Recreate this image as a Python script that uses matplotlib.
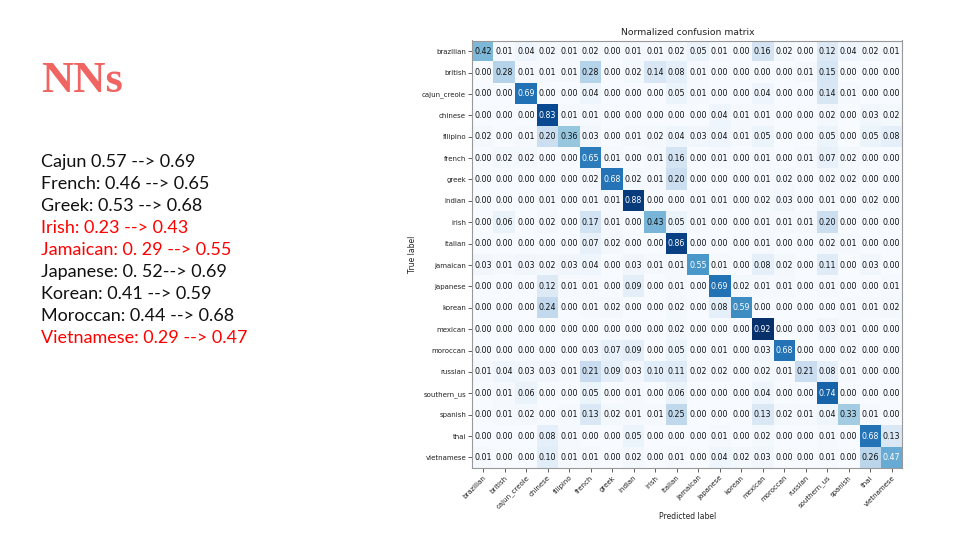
import numpy as np
import matplotlib
matplotlib.use("Agg")
import matplotlib.pyplot as plt

classes = ["brazilian", "british", "cajun_creole", "chinese", "filipino", "french",
           "greek", "indian", "irish", "italian", "jamaican", "japanese", "korean",
           "mexican", "moroccan", "russian", "southern_us", "spanish", "thai", "vietnamese"]

cm = np.array([
    [0.42, 0.01, 0.04, 0.02, 0.01, 0.02, 0.00, 0.01, 0.01, 0.02, 0.05, 0.01, 0.00, 0.16, 0.02, 0.00, 0.12, 0.04, 0.02, 0.01],
    [0.00, 0.28, 0.01, 0.01, 0.01, 0.28, 0.00, 0.02, 0.14, 0.08, 0.01, 0.00, 0.00, 0.00, 0.00, 0.01, 0.15, 0.00, 0.00, 0.00],
    [0.00, 0.00, 0.69, 0.00, 0.00, 0.04, 0.00, 0.00, 0.00, 0.05, 0.01, 0.00, 0.00, 0.04, 0.00, 0.00, 0.14, 0.01, 0.00, 0.00],
    [0.00, 0.00, 0.00, 0.83, 0.01, 0.01, 0.00, 0.00, 0.00, 0.00, 0.00, 0.04, 0.01, 0.01, 0.00, 0.00, 0.02, 0.00, 0.03, 0.02],
    [0.02, 0.00, 0.01, 0.20, 0.36, 0.03, 0.00, 0.01, 0.02, 0.04, 0.03, 0.04, 0.01, 0.05, 0.00, 0.00, 0.05, 0.00, 0.05, 0.08],
    [0.00, 0.02, 0.02, 0.00, 0.00, 0.65, 0.01, 0.00, 0.01, 0.16, 0.00, 0.01, 0.00, 0.01, 0.00, 0.01, 0.07, 0.02, 0.00, 0.00],
    [0.00, 0.00, 0.00, 0.00, 0.00, 0.02, 0.68, 0.02, 0.01, 0.20, 0.00, 0.00, 0.00, 0.01, 0.02, 0.00, 0.02, 0.02, 0.00, 0.00],
    [0.00, 0.00, 0.00, 0.01, 0.00, 0.01, 0.01, 0.88, 0.00, 0.00, 0.01, 0.01, 0.00, 0.02, 0.03, 0.00, 0.01, 0.00, 0.02, 0.00],
    [0.00, 0.06, 0.00, 0.02, 0.00, 0.17, 0.01, 0.00, 0.43, 0.05, 0.01, 0.00, 0.00, 0.01, 0.01, 0.01, 0.20, 0.00, 0.00, 0.00],
    [0.00, 0.00, 0.00, 0.00, 0.00, 0.07, 0.02, 0.00, 0.00, 0.86, 0.00, 0.00, 0.00, 0.01, 0.00, 0.00, 0.02, 0.01, 0.00, 0.00],
    [0.03, 0.01, 0.03, 0.02, 0.03, 0.04, 0.00, 0.03, 0.01, 0.01, 0.55, 0.01, 0.00, 0.08, 0.02, 0.00, 0.11, 0.00, 0.03, 0.00],
    [0.00, 0.00, 0.00, 0.12, 0.01, 0.01, 0.00, 0.09, 0.00, 0.01, 0.00, 0.69, 0.02, 0.01, 0.01, 0.00, 0.01, 0.00, 0.00, 0.01],
    [0.00, 0.00, 0.00, 0.24, 0.00, 0.01, 0.02, 0.00, 0.00, 0.02, 0.00, 0.08, 0.59, 0.00, 0.00, 0.00, 0.00, 0.01, 0.01, 0.02],
    [0.00, 0.00, 0.00, 0.00, 0.00, 0.00, 0.00, 0.00, 0.00, 0.02, 0.00, 0.00, 0.00, 0.92, 0.00, 0.00, 0.03, 0.01, 0.00, 0.00],
    [0.00, 0.00, 0.00, 0.00, 0.00, 0.03, 0.07, 0.09, 0.00, 0.05, 0.00, 0.01, 0.00, 0.03, 0.68, 0.00, 0.00, 0.02, 0.00, 0.00],
    [0.01, 0.04, 0.03, 0.03, 0.01, 0.21, 0.09, 0.03, 0.10, 0.11, 0.02, 0.02, 0.00, 0.02, 0.01, 0.21, 0.08, 0.01, 0.00, 0.00],
    [0.00, 0.01, 0.06, 0.00, 0.00, 0.05, 0.00, 0.01, 0.00, 0.06, 0.00, 0.00, 0.00, 0.04, 0.00, 0.00, 0.74, 0.00, 0.00, 0.00],
    [0.00, 0.01, 0.02, 0.00, 0.01, 0.13, 0.02, 0.01, 0.01, 0.25, 0.00, 0.00, 0.00, 0.13, 0.02, 0.01, 0.04, 0.33, 0.01, 0.00],
    [0.00, 0.00, 0.00, 0.08, 0.01, 0.00, 0.00, 0.05, 0.00, 0.00, 0.00, 0.01, 0.00, 0.02, 0.00, 0.00, 0.01, 0.00, 0.68, 0.13],
    [0.01, 0.00, 0.00, 0.10, 0.01, 0.01, 0.00, 0.02, 0.00, 0.01, 0.00, 0.04, 0.02, 0.03, 0.00, 0.00, 0.01, 0.00, 0.26, 0.47],
])

notes = ["Cajun 0.57 --> 0.69", "French: 0.46 --> 0.65", "Greek: 0.53 --> 0.68",
         "Irish: 0.23 --> 0.43", "Jamaican: 0. 29 --> 0.55", "Japanese: 0. 52--> 0.69",
         "Korean: 0.41 --> 0.59", "Moroccan: 0.44 --> 0.68", "Vietnamese: 0.29 --> 0.47"]
highlight = [False, False, False, True, True, False, False, False, True]

fig = plt.figure(figsize=(9.6, 5.4), dpi=100)
fig.patch.set_facecolor("white")

# slide text on the left
fig.text(0.043, 0.83, "NNs", fontsize=32, fontweight="bold", family="Liberation Serif",
         color="#f06461", va="baseline")
y = 0.70
for line, hl in zip(notes, highlight):
    fig.text(0.043, y, line, fontsize=13, family="Lato",
             color="#ff0000" if hl else "#111111", va="center")
    y -= 22 / 540

# confusion matrix
ax = fig.add_axes([0.492, 0.133, 0.448, 0.792])
ax.imshow(cm, interpolation="nearest", cmap=plt.cm.Blues, aspect="auto")
ax.set_title("Normalized confusion matrix", fontsize=6.7, pad=4, color="#222222")
ticks = np.arange(len(classes))
ax.set_xticks(ticks)
ax.set_xticklabels(classes, rotation=45, ha="right", rotation_mode="anchor", fontsize=5)
ax.set_yticks(ticks)
ax.set_yticklabels(classes, fontsize=5)
ax.tick_params(length=3, width=0.6, pad=1.5, labelcolor="#222222", color="#444444")
for s in ax.spines.values():
    s.set_color("#999999")
    s.set_linewidth(0.8)

thresh = cm.max() / 2.
for i in range(cm.shape[0]):
    for j in range(cm.shape[1]):
        ax.text(j, i, format(cm[i, j], ".2f"), ha="center", va="center", fontsize=5.7,
                color="white" if cm[i, j] > thresh else "#111111")

ax.set_ylabel("True label", fontsize=5.5, labelpad=4, color="#222222")
ax.set_xlabel("Predicted label", fontsize=5.5, labelpad=1, color="#222222")

fig.savefig("out.png", dpi=100)
